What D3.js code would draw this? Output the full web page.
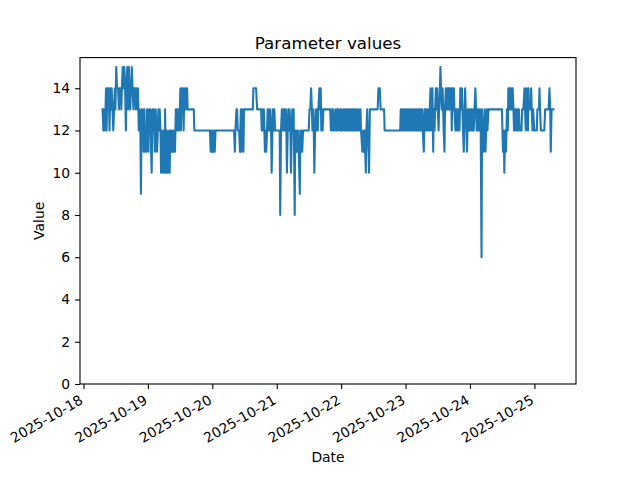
<!DOCTYPE html>
<html>
<head>
<meta charset="utf-8">
<script src="https://cdn.jsdelivr.net/npm/d3@7"></script>
<style>
  body { margin: 0; background: #fff; }
  text { font-family: "DejaVu Sans", sans-serif; fill: #000; }
</style>
</head>
<body>
<div id="chart"></div>
<script>
// readings: hours after 2025-10-18 00:00 (UTC) and the parameter value
let hours = [
    7.1, 7.4, 7.6, 7.9, 8.2, 8.4, 8.6, 8.9, 9.2, 9.4, 9.7, 10.0, 10.2, 10.5, 10.8, 11.1, 11.4, 11.7, 11.9, 12.2,
    12.5, 12.9, 13.2, 13.4, 13.8, 14.1, 14.3, 14.6, 14.9, 15.2, 15.5, 15.8, 16.0, 16.3, 16.6, 16.9, 17.1, 17.4, 17.7, 18.0,
    18.3, 18.6, 18.8, 19.2, 19.5, 19.8, 20.1, 20.3, 20.6, 20.9, 21.2, 21.4, 21.7,
    21.9, 22.2, 22.4, 22.7, 22.9, 23.2, 23.4, 23.7, 23.9, 24.2, 24.4, 24.7, 24.9, 25.2, 25.4, 25.7, 25.9, 26.2, 26.4, 26.6,
    26.9, 27.2, 27.4, 27.7, 27.9, 28.1, 28.4, 28.7, 28.9, 29.1, 29.4, 29.6, 29.9, 30.2, 30.4, 30.6, 30.9, 31.1, 31.4, 31.6,
    31.9, 32.1, 32.4, 32.6, 32.9, 33.1, 33.4,
    33.6, 33.9, 34.1, 34.4, 34.6, 34.8, 35.1, 35.4, 35.6, 35.9, 36.1, 36.3, 36.6, 36.9, 37.1, 37.3, 37.6, 37.8, 38.1, 38.4,
    38.6, 38.8, 41.1, 41.3,
    47.1, 47.4, 47.7, 47.9, 48.2, 48.4, 48.6, 48.9, 49.2, 56.1, 56.4, 56.6, 57.0, 57.2, 57.5, 58.0, 58.3, 58.6, 58.8, 59.1,
    59.3, 59.6, 59.8, 63.1, 63.3, 64.3, 64.7, 66.2,
    66.4, 66.6, 66.9, 67.2, 67.4, 67.6, 67.9, 68.1, 68.4, 68.6, 68.9, 69.1, 69.4, 69.6, 69.9, 70.1, 70.4, 70.6, 70.9, 71.1,
    71.4, 73.1, 73.3, 73.6, 73.9, 74.1, 74.4, 74.6, 74.8, 75.1, 75.4, 75.6, 75.8, 76.1, 76.3, 76.6, 76.8, 77.1, 77.3, 77.6,
    77.8, 78.1, 78.3, 78.7, 78.9, 79.2, 79.5, 79.7, 79.9, 80.2, 80.6, 80.8, 81.1, 81.3, 81.5, 81.8, 83.9, 84.2, 84.5, 84.8,
    85.1, 85.3, 85.5, 85.8, 86.0, 86.3, 86.5, 86.8, 87.0, 87.3, 87.5, 87.9, 88.1, 88.4, 88.6, 88.9, 89.1, 89.4, 91.9,
    92.2, 92.6, 92.9, 93.1, 93.4, 93.7, 94.0, 94.3, 94.5, 94.7, 95.0, 95.5, 95.7, 96.0, 96.2, 96.5, 97.0, 97.2, 97.5, 97.7,
    98.0, 98.2, 98.5, 98.7, 99.0, 99.2, 99.5, 99.7, 100.0, 100.2, 100.4, 100.7, 101.0, 101.2, 101.4, 101.7, 101.9, 102.2, 102.7, 102.9,
    103.2, 103.4, 103.9, 104.2, 104.4, 104.7, 105.2, 105.4, 105.7, 105.9, 106.2, 106.4, 106.7, 109.6, 109.9, 110.4, 110.7, 112.0, 112.2, 118.0,
    118.2,
    118.5, 118.7, 119.0, 119.2, 119.4, 119.7, 120.0, 120.2, 120.5, 120.7, 120.9, 121.2, 121.5, 121.7, 121.9, 122.2, 122.4, 122.7, 123.0, 123.2,
    123.4, 123.7, 123.9, 124.2, 124.4, 124.7, 124.9, 125.2, 125.4, 125.7, 125.9, 126.2, 126.4, 126.8, 127.1, 127.3, 127.5, 127.8, 128.0, 128.3,
    128.5, 128.8, 129.0, 129.3, 129.5, 129.8, 130.0, 130.3, 130.5, 130.8, 131.0, 131.3, 131.5, 131.8, 132.0, 132.3, 132.5, 132.8, 133.0, 133.2,
    133.5, 133.8, 134.0, 134.2, 134.5, 134.7, 135.0, 135.3, 135.5, 135.7, 136.0, 136.2, 136.5, 136.7, 137.0, 137.2, 137.5, 137.7, 138.0, 138.2,
    138.6, 138.8, 139.1, 139.4, 139.6, 139.8, 140.1, 140.4, 140.7, 141.0, 141.2, 141.4, 141.7, 142.0, 142.2, 142.4, 142.7, 142.9, 143.2, 143.5,
    143.7, 143.9, 144.2, 144.4, 144.7, 144.9, 145.2, 145.4, 145.7, 146.0, 146.3, 146.5, 146.8, 147.0, 147.3, 147.5, 147.8, 148.0, 148.3, 148.5,
    148.8, 149.0, 149.3, 149.5, 149.8, 150.0, 150.3, 150.5, 150.9,
    155.9, 156.1, 156.3, 156.6, 156.8, 157.1, 157.4, 157.6, 157.8, 158.1, 158.3, 158.6, 158.8, 159.1, 159.3, 159.6, 159.9, 160.2, 160.4, 160.7,
    161.0, 161.2, 161.5, 161.7, 161.9, 162.2, 162.5, 163.2, 163.4, 163.9, 164.3, 164.5, 164.8, 165.1, 165.3, 165.6, 165.8, 166.0, 166.6, 166.8,
    167.0, 167.3, 167.5, 168.0, 168.9, 169.1, 169.7, 169.9, 170.1, 170.4, 171.7, 172.0, 173.3, 173.6, 173.9, 174.1, 174.4, 175.1
];
let values = [
    13, 12, 13, 12, 13, 14, 12, 14, 13, 14, 12, 14, 13, 14, 13, 12, 13, 14, 13, 15,
    14, 14, 13, 14, 14, 13, 14, 15, 14, 15, 14, 12, 14, 15, 13, 15, 14, 13, 14, 15,
    14, 13, 14, 14, 13, 14, 13, 14, 12, 13, 12, 9, 13,
    12, 13, 11, 13, 11, 12, 11, 13, 12, 11, 13, 12, 13, 11, 10, 13, 12, 13, 12, 11,
    13, 12, 11, 12, 13, 12, 13, 12, 10, 12, 11, 10, 12, 10, 13, 11, 10, 12, 10, 11,
    12, 10, 12, 11, 12, 11, 12,
    11, 12, 11, 13, 12, 13, 12, 13, 12, 13, 14, 12, 14, 13, 14, 12, 14, 13, 14, 13,
    14, 13, 13, 12,
    12, 11, 12, 11, 12, 11, 12, 11, 12, 12, 11, 12, 13, 13, 12, 12, 11, 13, 11, 13,
    12, 11, 13, 13, 14, 14, 13, 13,
    12, 13, 12, 13, 12, 11, 12, 11, 12, 13, 12, 13, 12, 13, 12, 10, 12, 13, 12, 13,
    12, 12, 8, 12, 13, 12, 13, 12, 13, 12, 13, 12, 10, 12, 13, 12, 13, 12, 10, 12,
    13, 12, 13, 8, 12, 11, 12, 11, 12, 11, 9, 12, 11, 12, 11, 12, 12, 13, 13, 14,
    13, 12, 13, 12, 10, 12, 13, 12, 13, 12, 13, 14, 13, 14, 12, 13, 12, 13, 13,
    12, 13, 12, 13, 12, 12, 13, 12, 13, 12, 13, 12, 13, 12, 13, 12, 13, 12, 13, 12,
    13, 12, 13, 12, 13, 12, 13, 12, 13, 12, 13, 12, 13, 12, 13, 12, 13, 12, 13, 12,
    13, 12, 11, 12, 11, 12, 10, 12, 13, 12, 11, 10, 13, 13, 14, 14, 13, 13, 12, 12,
    13,
    12, 13, 12, 13, 12, 13, 12, 13, 12, 13, 12, 13, 12, 13, 12, 13, 12, 13, 12, 13,
    12, 13, 12, 13, 12, 13, 12, 13, 12, 13, 12, 13, 12, 11, 13, 12, 13, 12, 13, 12,
    13, 12, 13, 14, 12, 13, 14, 11, 13, 12, 13, 14, 13, 14, 13, 12, 13, 14, 15, 14,
    13, 14, 13, 12, 11, 13, 14, 13, 14, 13, 14, 13, 14, 13, 14, 12, 14, 13, 14, 13,
    12, 13, 12, 13, 12, 13, 12, 14, 13, 14, 13, 12, 11, 13, 14, 13, 12, 11, 13, 12,
    13, 12, 13, 12, 13, 12, 13, 12, 13, 14, 13, 12, 13, 12, 13, 12, 13, 12, 6, 13,
    12, 11, 12, 13, 11, 12, 13, 12, 13,
    13, 12, 11, 12, 10, 12, 11, 12, 13, 12, 14, 13, 14, 13, 14, 13, 14, 13, 12, 13,
    12, 13, 12, 13, 12, 13, 12, 12, 13, 13, 14, 13, 12, 14, 13, 12, 14, 13, 13, 14,
    13, 12, 13, 12, 12, 13, 13, 14, 13, 12, 12, 13, 13, 14, 13, 11, 13, 13
];

let day_ticks = ["2025-10-18", "2025-10-19", "2025-10-20", "2025-10-21",
                 "2025-10-22", "2025-10-23", "2025-10-24", "2025-10-25"];
let value_ticks = [0, 2, 4, 6, 8, 10, 12, 14];

let width = 640, height = 480;
let margin = {top: 57.6, right: 64, bottom: 96, left: 80};
let font_px = 13.9;

let start_ms = Date.UTC(2025, 9, 18);
let points = hours.map((h, i) => ({t: new Date(start_ms + h * 3600e3), v: values[i]}));

let svg = d3.select("#chart").append("svg")
    .attr("width", width)
    .attr("height", height);

// matplotlib style: 5% padding on x, y starts at 0
let t_ext = d3.extent(points, d => d.t);
let t_pad = (t_ext[1] - t_ext[0]) * 0.05;
let v_ext = d3.extent(points, d => d.v);

let xScale = d3.scaleUtc()
    .domain([new Date(+t_ext[0] - t_pad), new Date(+t_ext[1] + t_pad)])
    .range([margin.left, width - margin.right]);
let yScale = d3.scaleLinear()
    .domain([0, v_ext[1] + (v_ext[1] - v_ext[0]) * 0.05])
    .range([height - margin.bottom, margin.top]);

let parseDay = d3.utcParse("%Y-%m-%d");

svg.append("path")
    .datum(points)
    .attr("fill", "none")
    .attr("stroke", "#1f77b4")
    .attr("stroke-width", 2.08)
    .attr("stroke-linejoin", "round")
    .attr("stroke-linecap", "square")
    .attr("d", d3.line().x(d => xScale(d.t)).y(d => yScale(d.v)));

// x axis
let xAxis = d3.axisBottom(xScale)
    .tickValues(day_ticks.map(parseDay))
    .tickSize(4.9)
    .tickFormat("");
let gx = svg.append("g")
    .attr("transform", "translate(0," + (height - margin.bottom) + ")")
    .call(xAxis);
gx.select(".domain").remove();
gx.selectAll(".tick line").attr("stroke", "#000").attr("stroke-width", 1.1);

svg.append("g").selectAll("text")
    .data(day_ticks)
    .join("text")
    .attr("text-anchor", "end")
    .attr("font-size", font_px)
    .attr("transform", d => "translate(" + (xScale(parseDay(d)) + 0.5) + "," + (height - margin.bottom + 9.7 + 9.2) + ") rotate(-30)")
    .text(d => d);

// y axis
let yAxis = d3.axisLeft(yScale)
    .tickValues(value_ticks)
    .tickSize(4.9)
    .tickPadding(4.9)
    .tickFormat(d3.format("d"));
let gy = svg.append("g")
    .attr("transform", "translate(" + margin.left + ",0)")
    .call(yAxis);
gy.select(".domain").remove();
gy.selectAll(".tick line").attr("stroke", "#000").attr("stroke-width", 1.1);
gy.selectAll(".tick text")
    .attr("font-size", font_px)
    .attr("font-family", "DejaVu Sans")
    .attr("fill", "#000");

// frame
svg.append("rect")
    .attr("x", margin.left)
    .attr("y", margin.top)
    .attr("width", width - margin.left - margin.right)
    .attr("height", height - margin.top - margin.bottom)
    .attr("fill", "none")
    .attr("stroke", "#000")
    .attr("stroke-width", 1.1);

svg.append("text")
    .attr("x", (margin.left + width - margin.right) / 2)
    .attr("y", margin.top - 8.6)
    .attr("text-anchor", "middle")
    .attr("font-size", 16.7)
    .text("Parameter values");

svg.append("text")
    .attr("x", (margin.left + width - margin.right) / 2)
    .attr("y", 462)
    .attr("text-anchor", "middle")
    .attr("font-size", font_px)
    .text("Date");

svg.append("text")
    .attr("transform", "translate(44," + ((margin.top + height - margin.bottom) / 2) + ") rotate(-90)")
    .attr("text-anchor", "middle")
    .attr("font-size", font_px)
    .text("Value");
</script>
</body>
</html>
